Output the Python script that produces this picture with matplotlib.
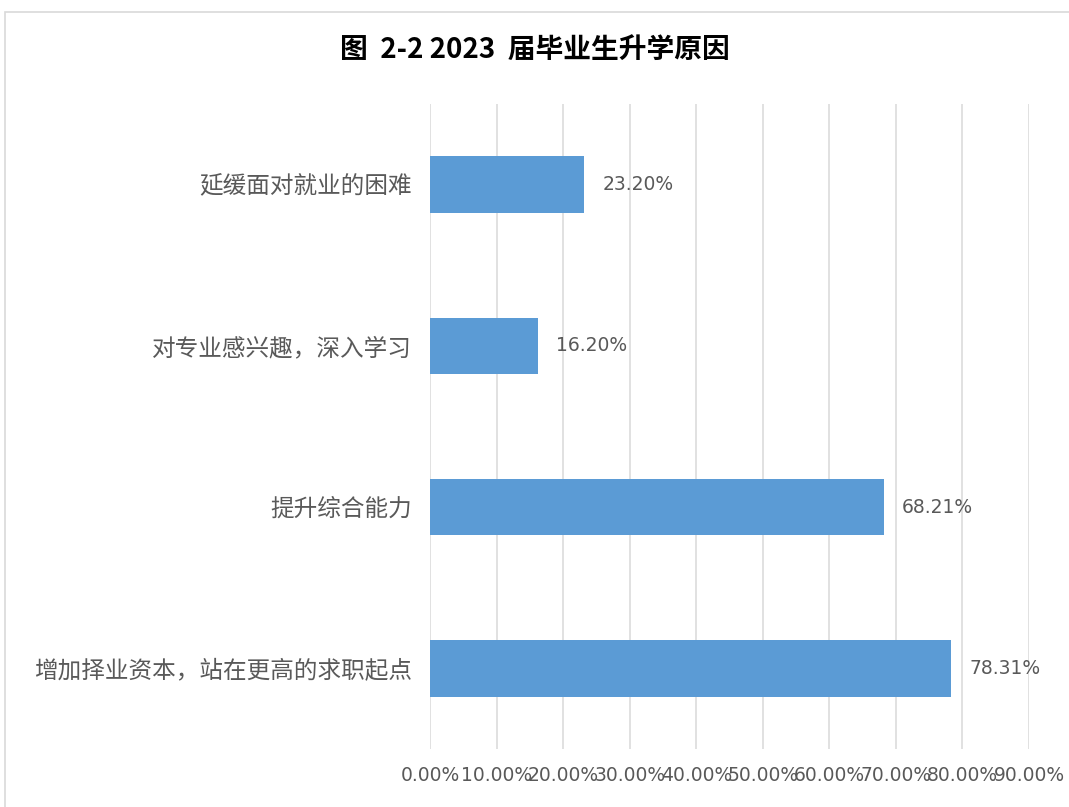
import matplotlib.pyplot as plt
from matplotlib.patches import Rectangle
from matplotlib.ticker import FuncFormatter

plt.rcParams['font.family'] = ['Noto Sans CJK SC', 'DejaVu Sans']

# data (top to bottom as in the picture)
reasons = ['延缓面对就业的困难', '对专业感兴趣，深入学习', '提升综合能力', '增加择业资本，站在更高的求职起点']
shares = [23.20, 16.20, 68.21, 78.31]
x_ticks = [0, 10, 20, 30, 40, 50, 60, 70, 80, 90]

bar_color = '#5B9BD5'
text_gray = '#595959'
grid_gray = '#D9D9D9'

fig = plt.figure(figsize=(10.69, 8.07), dpi=100)
W, H = 1069, 807

# light chart border (top / left visible)
fig.patches.append(Rectangle((5 / W, -0.1), 1.2, 1 - 12 / H + 0.1, transform=fig.transFigure,
                             fill=False, edgecolor=grid_gray, linewidth=1.2))

ax = fig.add_axes([430 / W, 1 - 749 / H, (1029 - 430) / W, (749 - 104) / H])

y_pos = list(range(len(reasons)))
ax.barh(y_pos, shares, height=0.35, color=bar_color, zorder=3)
ax.set_ylim(len(reasons) - 0.5, -0.5)
ax.set_xlim(0, 90)

for y, v in zip(y_pos, shares):
    ax.annotate(f'{v:.2f}%', (v, y), xytext=(13, 0), textcoords='offset points',
                va='center', ha='left', fontsize=13.5, color=text_gray, family='DejaVu Sans')

ax.set_xticks(x_ticks)
ax.xaxis.set_major_formatter(FuncFormatter(lambda v, p: f'{v:.2f}%'))
ax.set_yticks(y_pos)
ax.set_yticklabels(reasons)
for lbl in ax.get_yticklabels():
    lbl.set_fontsize(17)
    lbl.set_color(text_gray)
for lbl in ax.get_xticklabels():
    lbl.set_fontsize(13.5)
    lbl.set_color(text_gray)
    lbl.set_family('DejaVu Sans')

ax.tick_params(axis='x', length=0, pad=12)
ax.tick_params(axis='y', length=0, pad=13)
ax.grid(axis='x', color=grid_gray, linewidth=1.1, zorder=0)
for s in ax.spines.values():
    s.set_visible(False)

fig.text(0.5, 1 - 50 / H, '图  2-2 2023  届毕业生升学原因', ha='center', va='center',
         fontsize=20, fontweight='bold', color='black')

fig.savefig('out.png', dpi=100, facecolor='white')
